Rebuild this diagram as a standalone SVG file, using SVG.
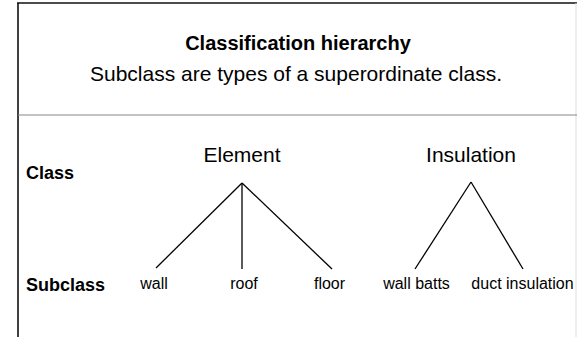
<svg xmlns="http://www.w3.org/2000/svg" width="577" height="337" viewBox="0 0 577 337">
<style>
text{font-family:"Liberation Sans",Arial,sans-serif;fill:#000}
.b{font-weight:bold}
.c{text-anchor:middle}
.node{font-size:21px}
.sub{font-size:16px}
.lbl{font-size:18px;font-weight:bold}
.edge{stroke:#000;stroke-width:1.3;fill:none}
</style>
<rect width="577" height="337" fill="#fff"/>
<g id="frame">
<line x1="17" y1="3" x2="577" y2="3" stroke="#111" stroke-width="1.6"/>
<line x1="18" y1="3" x2="18" y2="337" stroke="#111" stroke-width="1.6"/>
<line x1="576" y1="3" x2="576" y2="337" stroke="#ddd" stroke-width="1"/>
<line x1="18" y1="115" x2="577" y2="115" stroke="#888" stroke-width="1"/>
</g>
<g id="header">
<text class="b c" x="298" y="50" font-size="20">Classification hierarchy</text>
<text class="c" x="296" y="81" font-size="21">Subclass are types of a superordinate class.</text>
</g>
<g id="row-labels">
<text class="lbl" x="26" y="179">Class</text>
<text class="lbl" x="26" y="291">Subclass</text>
</g>
<g id="connectors">
<line class="edge" x1="242" y1="183" x2="156" y2="268"/>
<line class="edge" x1="242" y1="183" x2="242" y2="269"/>
<line class="edge" x1="242" y1="183" x2="332" y2="269"/>
<line class="edge" x1="471" y1="182" x2="415" y2="269"/>
<line class="edge" x1="471" y1="182" x2="523" y2="269"/>
</g>
<g id="element"><text class="node c" x="242" y="162">Element</text></g>
<g id="insulation"><text class="node c" x="471" y="162">Insulation</text></g>
<g id="wall"><text class="sub c" x="154" y="289">wall</text></g>
<g id="roof"><text class="sub c" x="244" y="289">roof</text></g>
<g id="floor"><text class="sub c" x="329.5" y="289">floor</text></g>
<g id="wall-batts"><text class="sub c" x="416.5" y="289">wall batts</text></g>
<g id="duct-insulation"><text class="sub c" x="522.5" y="289">duct insulation</text></g>
</svg>
